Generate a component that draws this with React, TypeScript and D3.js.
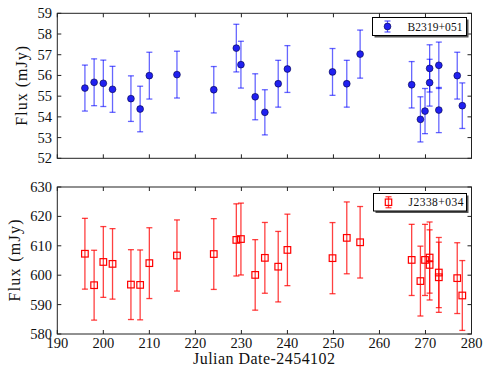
import React from 'react';
import * as d3 from 'd3';

const days = [196, 198, 200, 202, 206, 208, 210, 216, 224, 228.9, 229.9, 233, 235.1, 238, 240, 249.8, 252.9, 255.8, 267, 268.9, 269.9, 270.9, 270.9, 272.9, 272.9, 276.9, 278];
const fluxB = [55.39, 55.67, 55.62, 55.33, 54.88, 54.38, 55.99, 56.04, 55.31, 57.32, 56.52, 54.97, 54.22, 55.6, 56.31, 56.17, 55.6, 57.03, 55.55, 53.88, 54.28, 56.34, 55.65, 56.49, 54.33, 55.99, 54.54];
const errB = [1.11, 1.13, 1.12, 1.11, 1.1, 1.1, 1.13, 1.13, 1.12, 1.15, 1.13, 1.11, 1.09, 1.13, 1.13, 1.13, 1.13, 1.16, 1.12, 1.09, 1.09, 1.14, 1.13, 1.12, 1.09, 1.13, 1.1];
const fluxJ = [607.3, 596.6, 604.5, 603.85, 596.8, 596.7, 604.1, 606.7, 607.2, 612.0, 612.3, 600.1, 605.9, 602.9, 608.6, 605.8, 612.7, 611.2, 605.2, 598.0, 605.2, 606.0, 603.5, 600.9, 599.3, 599.0, 593.1];
const errJ = [12.04, 11.88, 12.04, 11.99, 11.88, 11.88, 12.04, 12.1, 12.04, 12.27, 12.22, 11.99, 12.04, 11.99, 12.16, 12.1, 12.22, 12.16, 12.1, 11.88, 12.1, 12.1, 11.93, 11.93, 11.93, 12.04, 11.88];
const xTicks = [190, 200, 210, 220, 230, 240, 250, 260, 270, 280];
const yTicksTop = [52, 53, 54, 55, 56, 57, 58, 59];
const yTicksBot = [580, 590, 600, 610, 620, 630];
const labelB = 'B2319+051';
const labelJ = 'J2338+034';

const FONT = "'Liberation Serif', 'Times New Roman', serif";
const L = 57.3, R = 471.5;

function Frame({ y, ticks, top, bottom, showX }: any) {
  const x = d3.scaleLinear().domain([190, 280]).range([L, R]);
  return (
    <g>
      <rect x={L} y={top} width={R - L} height={bottom - top} fill="none" stroke="#222" strokeWidth={1} />
      {xTicks.map((t) => (
        <g key={'x' + t}>
          <line x1={x(t)} x2={x(t)} y1={bottom} y2={bottom - 4} stroke="#222" />
          <line x1={x(t)} x2={x(t)} y1={top} y2={top + 4} stroke="#222" />
          {showX && (
            <text x={x(t)} y={348} textAnchor="middle" fontFamily={FONT} fontSize={14.5} fill="#111">{t}</text>
          )}
        </g>
      ))}
      {ticks.map((t: number) => (
        <g key={'y' + t}>
          <line x1={L} x2={L + 4} y1={y(t)} y2={y(t)} stroke="#222" />
          <line x1={R} x2={R - 4} y1={y(t)} y2={y(t)} stroke="#222" />
          <text x={52} y={y(t) + 5} textAnchor="end" fontFamily={FONT} fontSize={14.5} fill="#111">{t}</text>
        </g>
      ))}
    </g>
  );
}

function ErrBar({ cx, y1, y2, color, op }: any) {
  return (
    <g stroke={color} strokeOpacity={op} strokeWidth={1.3}>
      <line x1={cx} x2={cx} y1={y1} y2={y2} />
      <line x1={cx - 3} x2={cx + 3} y1={y1} y2={y1} />
      <line x1={cx - 3} x2={cx + 3} y1={y2} y2={y2} />
    </g>
  );
}

function Legend({ x0, y0, w, h, label, kind }: any) {
  const my = y0 + h / 2;
  const mx = x0 + 15;
  return (
    <g>
      <rect x={x0 + 2} y={y0 + 2} width={w} height={h} fill="#555" />
      <rect x={x0} y={y0} width={w} height={h} fill="#fff" stroke="#000" strokeWidth={1} />
      {kind === 'circle' ? (
        <g>
          <ErrBar cx={mx} y1={my - 5.5} y2={my + 5.5} color="#0000ff" op={0.6} />
          <circle cx={mx} cy={my} r={3.4} fill="#2020f0" stroke="#000044" strokeWidth={0.6} />
        </g>
      ) : (
        <g>
          <ErrBar cx={mx} y1={my - 5.5} y2={my + 5.5} color="#ff0000" op={0.75} />
          <rect x={mx - 3.2} y={my - 3.2} width={6.4} height={6.4} fill="none" stroke="#ff0000" strokeWidth={1.2} />
        </g>
      )}
      <text x={x0 + 35} y={my + 4} fontFamily={FONT} fontSize={11.5} fill="#111" textLength={55}>{label}</text>
    </g>
  );
}

export default function App() {
  const x = d3.scaleLinear().domain([190, 280]).range([L, R]);
  const topT = 13.3, topB = 158.3;
  const botT = 187, botB = 334;
  const yT = d3.scaleLinear().domain([52, 59]).range([topB, topT]);
  const yB = d3.scaleLinear().domain([580, 630]).range([botB, botT]);
  return (
    <svg width={491} height={373} style={{ position: 'absolute', left: 0, top: 0, background: '#fff' }}>
      <rect width={491} height={373} fill="#fff" />
      {days.map((d, i) => (
        <ErrBar key={'eb' + i} cx={x(d)} y1={yT(fluxB[i] + errB[i])} y2={yT(fluxB[i] - errB[i])} color="#0000ff" op={0.6} />
      ))}
      {days.map((d, i) => (
        <circle key={'c' + i} cx={x(d)} cy={yT(fluxB[i])} r={3.4} fill="#2020f0" stroke="#000044" strokeWidth={0.6} />
      ))}
      {days.map((d, i) => (
        <ErrBar key={'ej' + i} cx={x(d)} y1={yB(fluxJ[i] + errJ[i])} y2={yB(fluxJ[i] - errJ[i])} color="#ff0000" op={0.75} />
      ))}
      {days.map((d, i) => (
        <rect key={'s' + i} x={x(d) - 3.3} y={yB(fluxJ[i]) - 3.3} width={6.6} height={6.6} fill="none" stroke="#ff0000" strokeWidth={1.2} />
      ))}
      <Frame y={yT} ticks={yTicksTop} top={topT} bottom={topB} showX={false} />
      <Frame y={yB} ticks={yTicksBot} top={botT} bottom={botB} showX={true} />
      <Legend x0={372.5} y0={17.5} w={94} h={18} label={labelB} kind="circle" />
      <Legend x0={373.5} y0={193.5} w={93} h={17.5} label={labelJ} kind="square" />
      <text transform={`translate(27,${(topT + topB) / 2}) rotate(-90)`} textAnchor="middle" fontFamily={FONT} fontSize={16} fill="#111" textLength={80}>Flux (mJy)</text>
      <text transform={`translate(20,${(botT + botB) / 2}) rotate(-90)`} textAnchor="middle" fontFamily={FONT} fontSize={16} fill="#111" textLength={82}>Flux (mJy)</text>
      <text x={264} y={363.5} textAnchor="middle" fontFamily={FONT} fontSize={16} fill="#111" textLength={142}>Julian Date-2454102</text>
    </svg>
  );
}
